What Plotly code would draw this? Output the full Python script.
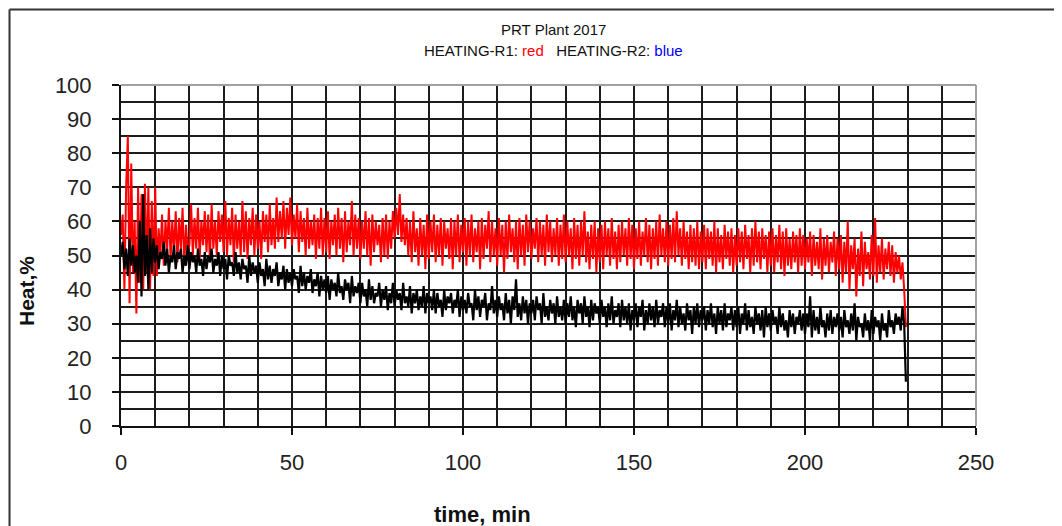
import plotly.graph_objects as go

# sampling step of the recorded series (minutes)
step_min = 0.5

# HEATING-R1 (drawn red), one value every 0.5 min from t=0
heat_r1 = [
    56, 62, 40, 70, 85, 36, 77, 45, 60, 33, 70, 42, 68, 40, 71, 45, 70, 40, 66, 44,
    70, 44, 58, 50, 62, 47, 60, 52, 64, 49, 60, 51, 63, 48, 61, 52, 64, 47, 59, 51,
    53, 65, 50, 61, 52, 64, 49, 60, 53, 63, 51, 62, 48, 65, 52, 60, 50, 63, 54, 62,
    51, 66, 50, 61, 53, 64, 48, 62, 52, 60, 50, 66, 51, 63, 49, 61, 53, 64, 50, 62,
    52, 60, 49, 63, 54, 62, 51, 65, 53, 61, 52, 67, 54, 63, 55, 66, 52, 64, 56, 67,
    53, 62, 55, 65, 51, 63, 54, 61, 50, 64, 52, 60, 53, 62, 49, 61, 52, 64, 50, 61,
    51, 63, 49, 60, 53, 62, 50, 64, 52, 61, 48, 63, 51, 60, 53, 66, 50, 62, 52, 61,
    49, 60, 52, 63, 50, 61, 47, 62, 51, 60, 53, 59, 48, 61, 50, 62, 49, 60, 52, 63,
    55, 64, 56, 68, 54, 62, 53, 61, 50, 60, 48, 63, 51, 58, 47, 61, 50, 59, 46, 62,
    49, 60, 51, 62, 48, 59, 50, 61, 47, 60, 52, 58, 49, 61, 46, 60, 50, 62, 48, 59,
    51, 61, 47, 60, 50, 62, 48, 58, 51, 60, 46, 61, 49, 59, 52, 63, 48, 60, 50, 58,
    47, 61, 50, 59, 45, 60, 49, 62, 51, 58, 48, 60, 46, 61, 50, 59, 47, 62, 51, 60,
    49, 58, 52, 61, 48, 60, 50, 59, 47, 62, 51, 60, 48, 58, 50, 61, 47, 59, 49, 62,
    48, 60, 50, 58, 46, 61, 49, 59, 47, 60, 50, 63, 48, 57, 46, 59, 49, 60, 45, 58,
    48, 59, 46, 60, 50, 58, 47, 61, 49, 57, 46, 59, 48, 60, 50, 58, 47, 61, 49, 59,
    46, 58, 49, 60, 47, 57, 50, 61, 48, 59, 46, 58, 49, 60, 47, 62, 50, 58, 48, 60,
    47, 59, 49, 61, 48, 63, 50, 58, 47, 60, 49, 57, 46, 59, 48, 58, 47, 60, 46, 57,
    48, 59, 46, 58, 49, 57, 47, 60, 45, 58, 48, 56, 46, 59, 49, 57, 47, 58, 45, 56,
    47, 58, 48, 57, 46, 59, 49, 56, 45, 58, 47, 60, 48, 57, 46, 58, 49, 56, 45, 57,
    47, 58, 45, 56, 48, 59, 46, 57, 44, 58, 47, 55, 46, 57, 48, 56, 45, 58, 47, 56,
    46, 55, 48, 57, 44, 56, 47, 54, 46, 58, 43, 55, 47, 56, 45, 54, 48, 57, 44, 55,
    46, 56, 42, 54, 45, 60, 40, 53, 46, 55, 38, 52, 44, 57, 41, 54, 46, 51, 43, 56,
    44, 61, 42, 53, 45, 55, 43, 52, 46, 54, 44, 53, 42, 51, 45, 50, 43, 48, 40, 29,
]

# HEATING-R2 (drawn black), one value every 0.5 min from t=0
heat_r2 = [
    50, 54, 46, 52, 44, 55, 47, 53, 45, 50, 42, 60, 38, 68, 44, 56, 40, 58, 45, 55,
    48, 53, 46, 51, 49, 54, 47, 52, 45, 50, 48, 53, 46, 51, 49, 52, 45, 50, 47, 53,
    46, 51, 48, 50, 45, 52, 47, 49, 44, 51, 46, 50, 48, 52, 45, 49, 47, 51, 44, 50,
    46, 49, 43, 50, 47, 48, 44, 51, 45, 48, 43, 49, 46, 47, 42, 50, 44, 48, 45, 47,
    42, 48, 44, 46, 41, 49, 43, 47, 42, 46, 44, 48, 41, 45, 43, 47, 40, 46, 42, 45,
    41, 46, 43, 44, 39, 47, 41, 45, 40, 44, 42, 46, 39, 43, 41, 45, 38, 44, 40, 43,
    39, 44, 37, 43, 40, 42, 38, 45, 39, 41, 37, 43, 40, 42, 36, 44, 38, 41, 39, 42,
    36, 42, 38, 40, 35, 43, 37, 41, 36, 39, 38, 42, 35, 40, 37, 41, 34, 39, 36, 42,
    35, 40, 37, 39, 34, 42, 36, 38, 35, 41, 33, 39, 36, 40, 34, 38, 35, 41, 33, 39,
    36, 38, 34, 40, 33, 39, 35, 37, 32, 40, 34, 38, 36, 39, 33, 37, 35, 40, 32, 38,
    34, 37, 33, 39, 35, 36, 31, 40, 34, 38, 32, 37, 35, 39, 31, 36, 34, 41, 33, 37,
    32, 38, 34, 36, 31, 39, 33, 37, 30, 38, 34, 43, 32, 36, 31, 38, 33, 37, 30, 36,
    33, 37, 31, 38, 34, 36, 30, 39, 32, 35, 31, 37, 33, 36, 30, 38, 32, 35, 31, 37,
    30, 36, 32, 38, 31, 35, 29, 37, 33, 36, 30, 38, 32, 35, 29, 37, 31, 36, 33, 35,
    30, 37, 32, 35, 29, 36, 31, 38, 30, 34, 32, 36, 29, 37, 31, 35, 30, 36, 28, 34,
    31, 36, 29, 35, 32, 37, 28, 34, 30, 36, 31, 35, 29, 37, 30, 34, 32, 36, 29, 35,
    30, 36, 28, 34, 31, 37, 29, 35, 30, 33, 28, 36, 31, 34, 27, 35, 30, 36, 29, 34,
    31, 35, 28, 34, 30, 36, 29, 33, 27, 35, 30, 34, 28, 36, 29, 33, 31, 35, 28, 34,
    29, 35, 27, 33, 30, 36, 28, 34, 29, 32, 27, 35, 30, 33, 28, 34, 26, 35, 29, 33,
    28, 34, 30, 32, 27, 35, 29, 33, 28, 31, 26, 34, 29, 33, 27, 32, 30, 34, 28, 33,
    27, 33, 29, 38, 26, 34, 28, 32, 27, 35, 29, 31, 26, 33, 28, 34, 27, 32, 29, 33,
    28, 32, 26, 34, 29, 31, 27, 33, 28, 36, 25, 32, 29, 30, 26, 33, 28, 31, 25, 34,
    27, 32, 29, 31, 25, 33, 28, 30, 26, 34, 29, 31, 27, 33, 30, 32, 28, 35, 30, 13,
]

x_ticks = [0, 50, 100, 150, 200, 250]
y_ticks = [0, 10, 20, 30, 40, 50, 60, 70, 80, 90, 100]

title_line1 = "PRT Plant 2017"
title_line2 = ("HEATING-R1: <span style='color:#ff0000'>red</span>"
               "&nbsp;&nbsp;&nbsp;HEATING-R2: <span style='color:#0000ff'>blue</span>")
x_title = "time, min"
y_title = "Heat,%"

t_r1 = [i * step_min for i in range(len(heat_r1))]
t_r2 = [i * step_min for i in range(len(heat_r2))]

FONT = "Liberation Sans, Arial, sans-serif"
GRID = "#1c1c1c"

fig = go.Figure()
fig.add_trace(go.Scatter(x=t_r1, y=heat_r1, mode="lines",
                         line=dict(color="#ff0000", width=2), name="HEATING-R1"))
fig.add_trace(go.Scatter(x=t_r2, y=heat_r2, mode="lines",
                         line=dict(color="#000000", width=2.2), name="HEATING-R2"))

# the page body adds an 8px offset; positions below are in screen pixels
OFF = 8
SCREEN_W, SCREEN_H = 1062, 526
W, H = SCREEN_W - OFF, SCREEN_H - OFF
SL, SR, ST, SB = 121, 976, 85, 426          # plot area in screen pixels
L, T = SL - OFF, ST - OFF
R = W - (SR - OFF)
B = H - (SB - OFF)
pw, ph = SR - SL, SB - ST

def px_x(p):
    return (p - SL) / pw

def px_y(p):
    return (SB - p) / ph

frame = dict(color="#333", width=2)
fig.update_layout(
    width=W, height=H,
    margin=dict(l=L, r=R, t=T, b=B, pad=0),
    paper_bgcolor="white", plot_bgcolor="white",
    showlegend=False,
    font=dict(family=FONT, color="#111"),
    xaxis=dict(
        range=[0, 250], tickvals=x_ticks, ticktext=[str(v) for v in x_ticks],
        showgrid=True, gridcolor=GRID, gridwidth=2,
        minor=dict(dtick=10, tick0=0, showgrid=True, gridcolor=GRID, gridwidth=2, ticks=""),
        ticks="outside", ticklen=7, tickwidth=1.5, tickcolor="#111",
        showline=True, linecolor="#111", linewidth=2,
        tickfont=dict(size=22, family=FONT, color="#222"),
        ticklabelstandoff=9, zeroline=False, fixedrange=True,
    ),
    yaxis=dict(
        range=[0, 100], tickvals=y_ticks, ticktext=[str(v) for v in y_ticks],
        showgrid=True, gridcolor=GRID, gridwidth=2,
        minor=dict(dtick=5, tick0=0, showgrid=True, gridcolor=GRID, gridwidth=2, ticks=""),
        ticks="outside", ticklen=7, tickwidth=1.5, tickcolor="#111",
        showline=True, linecolor="#111", linewidth=2,
        tickfont=dict(size=22, family=FONT, color="#222"),
        ticklabelstandoff=16, zeroline=False, fixedrange=True,
    ),
    shapes=[
        # outer chart frame: only the top and left edges fall inside the picture
        dict(type="line", xref="paper", yref="paper", layer="above",
             x0=px_x(9.5), x1=px_x(SCREEN_W + 40), y0=px_y(9.5), y1=px_y(9.5), line=frame),
        dict(type="line", xref="paper", yref="paper", layer="above",
             x0=px_x(9.5), x1=px_x(9.5), y0=px_y(9.5), y1=px_y(SCREEN_H + 40), line=frame),
        # light grey top and right edges of the plot area
        dict(type="line", xref="paper", yref="paper", layer="above",
             x0=0, x1=1, y0=1, y1=1, line=dict(color="#a0a0a0", width=2)),
        dict(type="line", xref="paper", yref="paper", layer="above",
             x0=1, x1=1, y0=0, y1=1, line=dict(color="#a0a0a0", width=2)),
    ],
    annotations=[
        dict(text=title_line1, xref="paper", yref="paper", x=px_x(553), y=px_y(30),
             showarrow=False, xanchor="center", yanchor="middle",
             font=dict(size=15, family=FONT, color="#111")),
        dict(text=title_line2, xref="paper", yref="paper", x=px_x(553), y=px_y(50),
             showarrow=False, xanchor="center", yanchor="middle",
             font=dict(size=15, family=FONT, color="#111")),
        dict(text="<b>" + x_title + "</b>", xref="paper", yref="paper", x=px_x(482), y=px_y(514),
             showarrow=False, xanchor="center", yanchor="middle",
             font=dict(size=22, family=FONT, color="#111")),
        dict(text="<b>" + y_title + "</b>", xref="paper", yref="paper", x=px_x(26), y=px_y(291),
             showarrow=False, xanchor="center", yanchor="middle", textangle=-90,
             font=dict(size=21, family=FONT, color="#111")),
    ],
)

fig.write_html("out.html")
